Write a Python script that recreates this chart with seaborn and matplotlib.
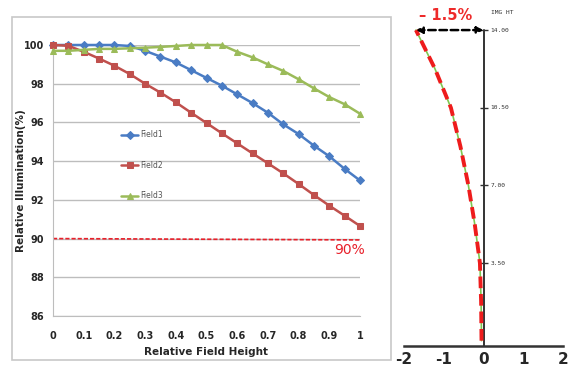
import numpy as np
import pandas as pd
import seaborn as sns
import matplotlib.pyplot as plt
from matplotlib.patches import Rectangle

# relative illumination vs relative field height
field_height = [0.0, 0.05, 0.1, 0.15, 0.2, 0.25, 0.3, 0.35, 0.4, 0.45, 0.5,
                0.55, 0.6, 0.65, 0.7, 0.75, 0.8, 0.85, 0.9, 0.95, 1.0]
field1 = [100.0, 100.0, 100.0, 100.0, 100.0, 99.95, 99.7, 99.4, 99.1, 98.7, 98.3,
          97.9, 97.45, 97.0, 96.5, 95.9, 95.4, 94.8, 94.25, 93.6, 93.0]
field2 = [100.0, 99.96, 99.65, 99.3, 98.93, 98.5, 98.0, 97.54, 97.04, 96.5, 95.97,
          95.44, 94.92, 94.4, 93.89, 93.37, 92.82, 92.25, 91.7, 91.18, 90.65]
field3 = [99.7, 99.7, 99.75, 99.8, 99.8, 99.83, 99.86, 99.9, 99.95, 100.0, 100.0,
          100.0, 99.65, 99.36, 99.0, 98.66, 98.23, 97.76, 97.31, 96.94, 96.45]
field_names = ["Field1", "Field2", "Field3"]
limit_x = [0.0, 1.0]
limit_y = [90.0, 89.93]

# distortion curve (right panel)
img_height = [0.0, 1.75, 3.5, 5.25, 7.0, 8.75, 10.5, 12.25, 14.0]
distortion = [-0.05, -0.06, -0.09, -0.22, -0.38, -0.58, -0.82, -1.22, -1.7]
img_ticks = [3.5, 7.0, 10.5, 14.0]
img_tick_labels = ["3.50", "7.00", "10.50", "14.00"]
dist_ticks = [-2, -1, 0, 1, 2]

df = pd.DataFrame({"x": field_height * 3,
                   "y": field1 + field2 + field3,
                   "field": np.repeat(field_names, len(field_height))})

sns.set_style("white")
plt.rcParams['font.family'] = ['DejaVu Sans']
plt.rcParams['axes.unicode_minus'] = False

W, H = 573, 371
fig = plt.figure(figsize=(W / 100, H / 100), dpi=100)


def px_axes(x0, y0, x1, y1):
    return fig.add_axes([x0 / W, 1 - y1 / H, (x1 - x0) / W, (y1 - y0) / H])


# outer frame around the left chart
fig.patches.append(Rectangle((12 / W, 1 - 360 / H), (391 - 12) / W, (360 - 17) / H,
                             transform=fig.transFigure, fill=False,
                             edgecolor="#c8c8c8", lw=1.2))

ax = px_axes(53, 45, 360, 316)
colors = {"Field1": "#4a7cc4", "Field2": "#c0504d", "Field3": "#9bbb59"}
markers = {"Field1": "D", "Field2": "s", "Field3": "^"}
sizes = {"Field1": 3.8, "Field2": 4.6, "Field3": 5}
for name in field_names:
    sub = df[df.field == name]
    sns.lineplot(data=sub, x="x", y="y", ax=ax, color=colors[name],
                 marker=markers[name], markersize=sizes[name],
                 markeredgecolor=colors[name], lw=1.8, label=name,
                 clip_on=False, zorder=3)

ax.plot(limit_x, limit_y, color="#e8202a", ls=(0, (2.5, 1.2)), lw=1.2, zorder=2)
ax.text(0.965, 89.4, "90%", color="#e8202a", fontsize=10, ha="center", va="center")

ax.set_xlim(0, 1)
ax.set_ylim(86, 100)
ax.set_xticks(np.arange(0, 1.01, 0.1))
ax.set_xticklabels(["0", "0.1", "0.2", "0.3", "0.4", "0.5", "0.6", "0.7", "0.8", "0.9", "1"])
ax.set_yticks(range(86, 101, 2))
ax.yaxis.grid(True, color="#bdbdbd", lw=1)
ax.xaxis.grid(False)
for s in ["top", "right"]:
    ax.spines[s].set_visible(False)
for s in ["left", "bottom"]:
    ax.spines[s].set_color("#bdbdbd")
ax.tick_params(axis="x", length=3, color="#bdbdbd", labelsize=7, pad=8)
ax.tick_params(axis="y", length=3, color="#bdbdbd", labelsize=7)
for lab in ax.get_xticklabels() + ax.get_yticklabels():
    lab.set_fontweight("bold")
ax.set_xlabel("Relative Field Height", fontsize=7.5, fontweight="bold", labelpad=4)
ax.set_ylabel("Relative Illumination(%)", fontsize=7.5, fontweight="bold")
ax.yaxis.set_label_coords(-0.088, 0.5)

leg = ax.legend(loc="upper left", bbox_to_anchor=(0.2, 0.71), frameon=False,
                fontsize=5.5, labelspacing=2.8, handlelength=2.2, handletextpad=0.3)
for t in leg.get_texts():
    t.set_color("#555555")

# right panel: distortion
ax2 = px_axes(404, 5, 563, 346)
ax2.plot(distortion, img_height, color="#7ec850", lw=1.2, zorder=2)
ax2.plot(distortion, img_height, color="#ee1c1c", lw=2.8, ls=(0, (3, 1.5)), zorder=3)
ax2.set_xlim(-2, 2)
ax2.set_ylim(-0.24, 15.13)
for s in ["top", "right", "left"]:
    ax2.spines[s].set_visible(False)
ax2.spines["bottom"].set_color("#333333")
ax2.spines["bottom"].set_linewidth(1.8)
ax2.set_xticks(dist_ticks)
ax2.tick_params(axis="x", direction="in", length=5, width=1.5, color="#333333",
                labelsize=11, pad=4)
for lab in ax2.get_xticklabels():
    lab.set_fontweight("bold")
ax2.set_yticks([])
ax2.plot([0, 0], [-0.24, 14.0], color="#333333", lw=1.4, zorder=1)
ax2.plot([0] * len(img_ticks), img_ticks, ls="none", marker="_", color="#333333",
         markersize=6, mew=1)
for v, lab in zip(img_ticks, img_tick_labels):
    ax2.text(0.18, v, lab, fontsize=4.5, family="DejaVu Sans Mono", va="center",
             ha="left", color="#333333")
ax2.text(0.18, 14.8, "IMG HT", fontsize=4.5, family="DejaVu Sans Mono",
         va="center", ha="left", color="#333333")
ax2.annotate("", xy=(distortion[-1], 14.0), xytext=(0, 14.0),
             arrowprops=dict(arrowstyle="<|-|>", color="black", lw=1.8,
                             ls=(0, (3, 1.5)), mutation_scale=9, shrinkA=0, shrinkB=0))
ax2.text(-0.95, 14.65, "– 1.5%", color="#ee2a2a", fontsize=10.5, fontweight="bold",
         ha="center", va="center")
ax2.set_xlabel("")
ax2.set_ylabel("")

fig.savefig("out.png", dpi=100)
